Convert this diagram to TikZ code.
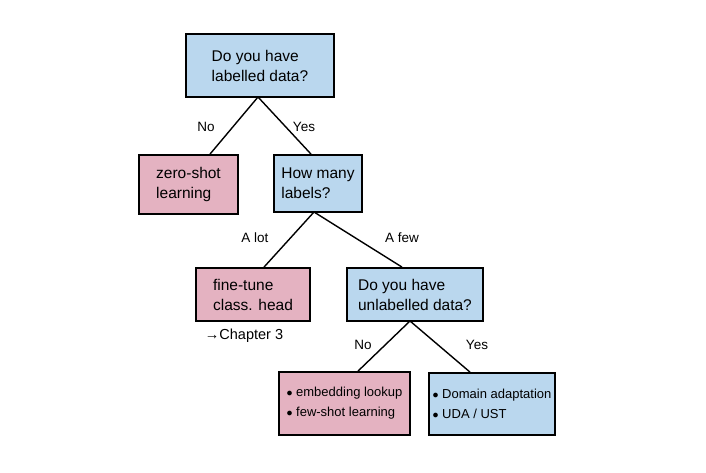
\documentclass[tikz,border=0pt]{standalone}
\usepackage{fontspec}
\setmainfont{Liberation Sans}
\definecolor{qblue}{RGB}{186,215,238}
\definecolor{qpink}{RGB}{228,178,193}
\begin{document}
\begin{tikzpicture}[x=1pt,y=-1pt,
  box/.style={draw=black,line width=1.8pt,align=left,font=\fontsize{15.5}{20}\selectfont,inner sep=0pt,anchor=center},
  qbox/.style={box,fill=qblue},
  abox/.style={box,fill=qpink},
  lbox/.style={font=\fontsize{13}{17}\selectfont},
  edge/.style={line width=1.4pt,black},
  elab/.style={font=\fontsize{13.5}{15}\selectfont}]
\useasboundingbox (0,0) rectangle (706,473);
\fill[white] (0,0) rectangle (706,473);
\node[qbox,minimum width=148pt,minimum height=63pt] (q1) at (260,65.5) {Do you have\\labelled data?};
\node[abox,minimum width=99pt,minimum height=59pt] (zs) at (188.5,184.5) {zero-shot\\learning};
\node[qbox,minimum width=88pt,minimum height=57pt] (q2) at (318,183.5) {How many\\labels?};
\node[abox,minimum width=114pt,minimum height=53pt] (ft) at (253,294.5) {fine-tune\\class. head};
\node[qbox,minimum width=136pt,minimum height=53pt] (q3) at (415,294.5) {Do you have\\unlabelled data?};
\node[abox,lbox,minimum width=131pt,minimum height=63pt] (el) at (344.5,403.5) {$\bullet$ embedding lookup\\[3pt]$\bullet$ few-shot learning};
\node[qbox,lbox,minimum width=126pt,minimum height=62pt] (da) at (492,404) {$\bullet$ Domain adaptation\\[3pt]$\bullet$ UDA / UST};
\coordinate (q1b) at (258,97);
\coordinate (q2b) at (314,212);
\coordinate (q3b) at (410,321);
\draw[edge] (q1b) -- (zs.north -| 210,0);
\draw[edge] (q1b) -- (q2.north -| 311,0);
\draw[edge] (q2b) -- (ft.north -| 264,0);
\draw[edge] (q2b) -- (q3.north -| 402,0);
\draw[edge] (q3b) -- (el.north -| 358,0);
\draw[edge] (q3b) -- (da.north -| 470,0);
\node[elab] (l1) at (206,127) {No};
\node[elab] (l2) at (304,127) {Yes};
\node[elab] (l3) at (255,238) {A lot};
\node[elab] (l4) at (402,238) {A few};
\node[elab,font=\fontsize{14.5}{16}\selectfont] (ch) at (244,336) {→Chapter 3};
\node[elab] (l5) at (363,345) {No};
\node[elab] (l6) at (477,345) {Yes};
\end{tikzpicture}
\end{document}
